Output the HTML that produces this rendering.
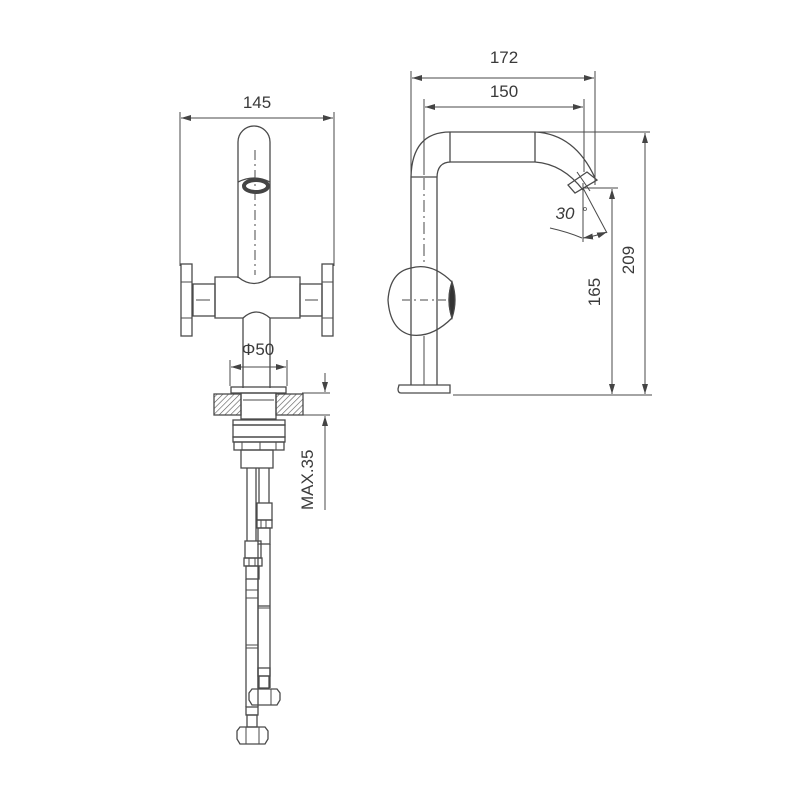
<!DOCTYPE html>
<html><head><meta charset="utf-8"><style>
html,body{margin:0;padding:0;background:#fff;}
svg{display:block;}
text{font-family:"Liberation Sans",sans-serif;fill:#3a3a3a;}
</style></head><body>
<svg width="800" height="800" viewBox="0 0 800 800" xmlns="http://www.w3.org/2000/svg">
<defs>
<marker id="a" viewBox="0 0 10 6" refX="10" refY="3" markerWidth="10" markerHeight="6" orient="auto-start-reverse" markerUnits="userSpaceOnUse"><path d="M0,0L10,3L0,6z" fill="#444"/></marker>
<pattern id="h" width="4" height="4" patternUnits="userSpaceOnUse" patternTransform="rotate(45)"><line x1="0" y1="0" x2="0" y2="4" stroke="#555" stroke-width="1.2"/></pattern>
</defs>
<g fill="none" stroke="#4a4a4a" stroke-width="1.3">
<!-- LEFT VIEW -->
<line x1="180" y1="112" x2="180" y2="266" stroke-width="1"/>
<line x1="334" y1="112" x2="334" y2="266" stroke-width="1"/>
<line x1="181" y1="118" x2="333" y2="118" stroke-width="1" marker-start="url(#a)" marker-end="url(#a)"/>
<!-- spout -->
<path d="M238,278 V142 A16,16 0 0 1 270,142 V278"/>
<path d="M238,182 Q254,174 270,182"/>
<ellipse cx="256" cy="186" rx="12" ry="6" stroke-width="4" stroke="#444"/>
<line x1="255" y1="150" x2="255" y2="275" stroke-dasharray="10,4,2,4" stroke-width="1"/>
<!-- body -->
<path d="M215,277 H238 Q254,290 270,277 H300 V318 H270 Q256,306 243,318 H215 Z"/>
<rect x="193" y="284" width="22" height="32"/>
<rect x="300" y="284" width="22" height="32"/>
<line x1="196" y1="300" x2="210" y2="300" stroke-width="1"/>
<line x1="305" y1="300" x2="318" y2="300" stroke-width="1"/>
<rect x="181" y="264" width="11" height="72"/>
<rect x="322" y="264" width="11" height="72"/>
<line x1="181" y1="282" x2="192" y2="282" stroke-width="1"/><line x1="181" y1="318" x2="192" y2="318" stroke-width="1"/>
<line x1="322" y1="282" x2="333" y2="282" stroke-width="1"/><line x1="322" y1="318" x2="333" y2="318" stroke-width="1"/>
<!-- lower tube -->
<line x1="243" y1="318" x2="243" y2="388"/><line x1="270" y1="318" x2="270" y2="388"/>
<line x1="230" y1="360" x2="230" y2="386" stroke-width="1"/><line x1="287" y1="360" x2="287" y2="386" stroke-width="1"/>
<line x1="231" y1="367" x2="286" y2="367" stroke-width="1" marker-start="url(#a)" marker-end="url(#a)"/>
<rect x="231" y="387" width="55" height="6"/>
<rect x="214" y="394" width="27" height="21" fill="url(#h)"/>
<rect x="276" y="394" width="27" height="21" fill="url(#h)"/>
<rect x="241" y="393" width="35" height="26"/>
<line x1="243" y1="400" x2="274" y2="400" stroke-width="1"/>
<!-- nut assembly -->
<rect x="233" y="420" width="52" height="5"/>
<rect x="233" y="425" width="52" height="12"/>
<rect x="233" y="437" width="52" height="5"/>
<rect x="234" y="442" width="50" height="8"/>
<line x1="242" y1="442" x2="242" y2="450" stroke-width="1"/><line x1="260" y1="442" x2="260" y2="450" stroke-width="1"/><line x1="276" y1="442" x2="276" y2="450" stroke-width="1"/>
<rect x="241" y="450" width="32" height="18"/>
<!-- MAX.35 dim -->
<line x1="302" y1="393" x2="330" y2="393" stroke-width="1"/>
<line x1="302" y1="415" x2="330" y2="415" stroke-width="1"/>
<line x1="325" y1="373" x2="325" y2="392" stroke-width="1" marker-end="url(#a)"/>
<line x1="325" y1="510" x2="325" y2="416" stroke-width="1" marker-end="url(#a)"/>
<!-- hoses -->
<line x1="247" y1="468" x2="247" y2="541"/><line x1="256" y1="468" x2="256" y2="541"/>
<line x1="259" y1="468" x2="259" y2="503"/><line x1="269" y1="468" x2="269" y2="503"/>
<rect x="257" y="503" width="15" height="17"/>
<rect x="257" y="520" width="15" height="8"/>
<line x1="261" y1="520" x2="261" y2="528" stroke-width="1"/><line x1="266" y1="520" x2="266" y2="528" stroke-width="1"/>
<rect x="258" y="528" width="12" height="16"/>
<line x1="258" y1="544" x2="258" y2="688"/><line x1="270" y1="544" x2="270" y2="688"/>
<line x1="258" y1="606" x2="270" y2="606"/><line x1="258" y1="608" x2="270" y2="608" stroke-width="1"/>
<rect x="258" y="668" width="12" height="8"/>
<rect x="259" y="676" width="10" height="12"/>
<path d="M252,689 H277 L280,693 V700 L277,705 H252 L249,700 V693 Z"/>
<line x1="258" y1="689" x2="258" y2="705" stroke-width="1"/><line x1="271" y1="689" x2="271" y2="705" stroke-width="1"/>
<rect x="245" y="541" width="16" height="17"/>
<rect x="244" y="558" width="18" height="8"/>
<line x1="249" y1="558" x2="249" y2="566" stroke-width="1"/><line x1="255" y1="558" x2="255" y2="566" stroke-width="1"/>
<rect x="246" y="566" width="13" height="13"/>
<line x1="246" y1="579" x2="246" y2="707"/><line x1="258" y1="579" x2="258" y2="707"/>
<line x1="246" y1="590" x2="258" y2="590" stroke-width="1"/><line x1="246" y1="598" x2="258" y2="598" stroke-width="1"/>
<line x1="246" y1="645" x2="258" y2="645" stroke-width="1"/><line x1="246" y1="648" x2="258" y2="648" stroke-width="1"/>
<rect x="246" y="707" width="12" height="8"/>
<rect x="247" y="715" width="10" height="12"/>
<path d="M240,727 H265 L268,731 V739 L265,744 H240 L237,739 V731 Z"/>
<line x1="246" y1="727" x2="246" y2="744" stroke-width="1"/><line x1="259" y1="727" x2="259" y2="744" stroke-width="1"/>

<!-- RIGHT VIEW -->
<line x1="411" y1="71" x2="411" y2="175" stroke-width="1"/>
<line x1="595" y1="71" x2="595" y2="185" stroke-width="1"/>
<line x1="412" y1="78" x2="594" y2="78" stroke-width="1" marker-start="url(#a)" marker-end="url(#a)"/>
<line x1="424" y1="99" x2="424" y2="175" stroke-width="1"/>
<line x1="584" y1="99" x2="584" y2="172" stroke-width="1"/>
<line x1="425" y1="107" x2="583" y2="107" stroke-width="1" marker-start="url(#a)" marker-end="url(#a)"/>
<!-- spout -->
<path d="M411,385 V177 Q412,132 450,132 H535 Q575,134 595,178"/>
<path d="M437,385 V178 Q437,162 451,162 H535 Q563,164 583,190"/>
<line x1="450" y1="132" x2="450" y2="162"/>
<line x1="535" y1="132" x2="535" y2="162"/>
<line x1="411" y1="177" x2="437" y2="177"/>
<line x1="424" y1="178" x2="424" y2="262" stroke-dasharray="12,4,2,4" stroke-width="1"/>
<line x1="424" y1="336" x2="424" y2="385" stroke-width="1"/>
<path d="M568,185 L587,172 L597,180 L575,193 Z"/>
<line x1="577" y1="172" x2="590" y2="191" stroke-width="1"/>
<line x1="535" y1="132" x2="650" y2="132" stroke-width="1"/>
<line x1="583" y1="188" x2="618" y2="188" stroke-width="1"/>
<line x1="583" y1="183" x2="583" y2="242" stroke-width="1"/>
<line x1="583" y1="188" x2="607" y2="233" stroke-width="1"/>
<path d="M550,228 Q568,232 582,238" stroke-width="1"/>
<path d="M583,238 Q596,236 607,232" stroke-width="1" marker-start="url(#a)" marker-end="url(#a)"/>
<!-- handle -->
<path d="M411,268 Q390,272 388,300 Q390,330 411,335 Q432,338 452,318 Q446,300 452,282 Q432,262 411,268 Z"/>
<path d="M452,282 Q446,300 452,318 Q458,300 452,282 Z" fill="#333"/>
<line x1="402" y1="300" x2="448" y2="300" stroke-dasharray="8,4,2,4" stroke-width="1"/>
<!-- base -->
<path d="M399,385 H450 V393 H401 Q398,393 398,389 Z"/>
<line x1="453" y1="395" x2="652" y2="395" stroke-width="1"/>
<line x1="645" y1="133" x2="645" y2="394" stroke-width="1" marker-start="url(#a)" marker-end="url(#a)"/>
<line x1="612" y1="189" x2="612" y2="394" stroke-width="1" marker-start="url(#a)" marker-end="url(#a)"/>
</g>
<circle cx="585" cy="209" r="1.5" fill="none" stroke="#555" stroke-width="0.8"/>
<text x="257" y="108" font-size="17" text-anchor="middle">145</text>
<text x="258" y="355" font-size="17" text-anchor="middle">Φ50</text>
<text x="313" y="510" font-size="17" transform="rotate(-90 313 510)">MAX.35</text>
<text x="504" y="63" font-size="17" text-anchor="middle">172</text>
<text x="504" y="97" font-size="17" text-anchor="middle">150</text>
<text x="565" y="219" font-size="17" font-style="italic" text-anchor="middle">30</text>
<text x="600" y="292" font-size="17" text-anchor="middle" transform="rotate(-90 600 292)">165</text>
<text x="634" y="260" font-size="17" text-anchor="middle" transform="rotate(-90 634 260)">209</text>
</svg>
</body></html>
